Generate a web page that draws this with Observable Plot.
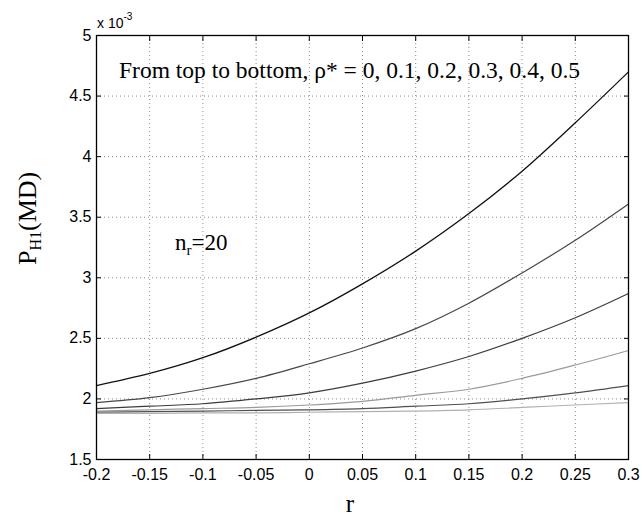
<!DOCTYPE html>
<html><head><meta charset="utf-8">
<script src="https://cdn.jsdelivr.net/npm/d3@7"></script>
<script src="https://cdn.jsdelivr.net/npm/@observablehq/plot@0.6"></script>
<style>body{margin:0;background:#fff} svg{display:block}</style>
</head><body><div id="chart"></div>
<script>
// r values (x axis)
const r = [-0.2, -0.15, -0.1, -0.05, 0, 0.05, 0.1, 0.15, 0.2, 0.25, 0.3];
// P_H1(MD) in units of 1e-3, one array per rho*
const rho0 = [2.11, 2.21, 2.34, 2.51, 2.71, 2.95, 3.22, 3.53, 3.88, 4.28, 4.70];
const rho1 = [1.97, 2.01, 2.08, 2.17, 2.29, 2.42, 2.58, 2.79, 3.04, 3.31, 3.61];
const rho2 = [1.92, 1.94, 1.96, 2.00, 2.05, 2.13, 2.23, 2.35, 2.50, 2.67, 2.87];
const rho3 = [1.90, 1.91, 1.92, 1.93, 1.95, 1.98, 2.03, 2.08, 2.17, 2.28, 2.40];
const rho4 = [1.89, 1.895, 1.90, 1.905, 1.91, 1.92, 1.94, 1.96, 2.00, 2.05, 2.11];
const rho5 = [1.88, 1.88, 1.885, 1.885, 1.89, 1.895, 1.90, 1.91, 1.93, 1.95, 1.97];
const rhoNames = ["0", "0.1", "0.2", "0.3", "0.4", "0.5"];
const xTicks = [-0.2, -0.15, -0.1, -0.05, 0, 0.05, 0.1, 0.15, 0.2, 0.25, 0.3];
const yTicks = [1.5, 2, 2.5, 3, 3.5, 4, 4.5, 5];
const titleText = "From top to bottom, \u03C1* = 0, 0.1, 0.2, 0.3, 0.4, 0.5";

const allSeries = [rho0, rho1, rho2, rho3, rho4, rho5];
const styles = [
  {stroke: "#111", w: 1.3},
  {stroke: "#474747", w: 1.2},
  {stroke: "#3c3c3c", w: 1.2},
  {stroke: "#9a9a9a", w: 1.2},
  {stroke: "#505050", w: 1.2},
  {stroke: "#b0b0b0", w: 1.2}
];

const fmtX = d => String(+d.toFixed(2));
const noText = () => "";

const chart = Plot.plot({
  width: 642, height: 519,
  marginLeft: 96, marginRight: 14, marginTop: 35, marginBottom: 60,
  style: {fontFamily: "'Liberation Sans', Arial, sans-serif", fontSize: "16px", color: "#000", background: "#fff"},
  x: {domain: [-0.2, 0.3]},
  y: {domain: [1.5, 5]},
  marks: [
    Plot.gridX(xTicks, {stroke: "#8a8a8a", strokeOpacity: 1, strokeDasharray: "1,3"}),
    Plot.gridY(yTicks, {stroke: "#8a8a8a", strokeOpacity: 1, strokeDasharray: "1,3"}),
    ...allSeries.map((vals, k) => Plot.line(
      r.map((x, i) => ({r: x, p: vals[i], rho: rhoNames[k]})),
      {x: "r", y: "p", stroke: styles[k].stroke, strokeWidth: styles[k].w, curve: "catmull-rom"}
    )),
    Plot.frame({stroke: "#000", strokeWidth: 1.3}),
    Plot.axisX(xTicks, {anchor: "bottom", tickSize: 0, tickPadding: 9, tickFormat: fmtX, label: null, fontSize: 16}),
    Plot.axisX(xTicks, {anchor: "bottom", tickSize: 5, dy: -5, tickFormat: noText, label: null}),
    Plot.axisX(xTicks, {anchor: "top", tickSize: 5, dy: 5, tickFormat: noText, label: null}),
    Plot.axisY(yTicks, {anchor: "left", tickSize: 0, tickPadding: 5, tickFormat: d => String(d), label: null, fontSize: 16}),
    Plot.axisY(yTicks, {anchor: "left", tickSize: 5, dx: 5, tickFormat: noText, label: null}),
    Plot.axisY(yTicks, {anchor: "right", tickSize: 5, dx: -5, tickFormat: noText, label: null})
  ]
});
document.getElementById("chart").appendChild(chart);

// Annotations
const svg = d3.select(chart);
const serif = "'Liberation Serif', 'Times New Roman', serif";
svg.append("text").attr("x", 119).attr("y", 78).attr("text-anchor", "start").attr("font-family", serif).attr("font-size", 23.5).attr("fill", "#000").text(titleText);

const nr = svg.append("text").attr("x", 175).attr("y", 250).attr("text-anchor", "start").attr("font-family", serif).attr("font-size", 23).attr("fill", "#000");
nr.append("tspan").text("n");
nr.append("tspan").attr("font-size", 15).attr("dy", 5).text("r");
nr.append("tspan").attr("dy", -5).text("=20");

const yl = svg.append("text").attr("transform", "translate(36,265) rotate(-90)").attr("text-anchor", "start").attr("font-family", serif).attr("font-size", 26).attr("fill", "#000");
yl.append("tspan").text("P");
yl.append("tspan").attr("font-size", 16).attr("dy", 5).text("H1");
yl.append("tspan").attr("dy", -5).text("(MD)");

svg.append("text").attr("x", 350).attr("y", 512).attr("text-anchor", "middle").attr("font-family", serif).attr("font-size", 25).attr("fill", "#000").text("r");

const ex = svg.append("text").attr("x", 97).attr("y", 28).attr("text-anchor", "start").attr("font-family", "'Liberation Sans', Arial, sans-serif").attr("font-size", 14).attr("fill", "#000");
ex.append("tspan").text("x 10");
ex.append("tspan").attr("font-size", 10).attr("dy", -8).text("-3");
</script>
</body></html>
